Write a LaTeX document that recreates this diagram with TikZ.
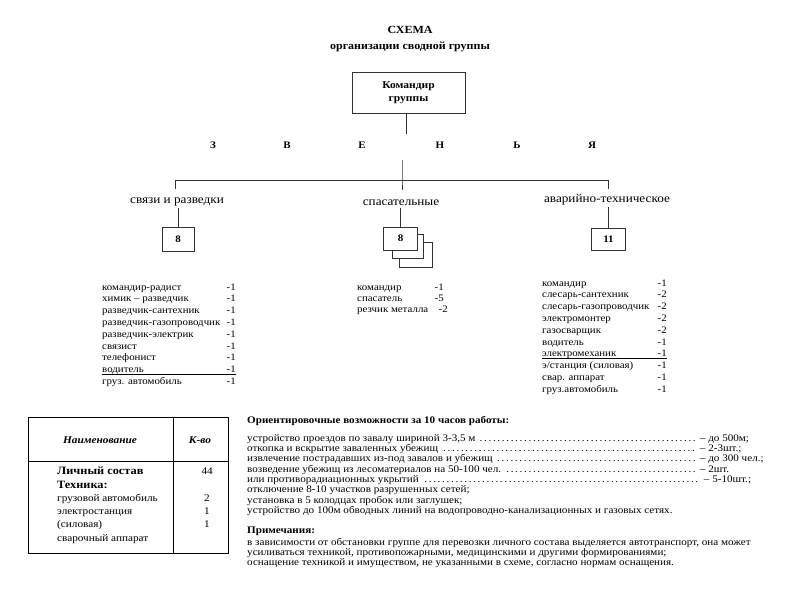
\documentclass[tikz,border=0pt]{standalone}
\usepackage{fontspec}
\setmainfont{Liberation Serif}[FakeStretch=1.1]
\begin{document}
\begin{tikzpicture}[x=1pt,y=-1pt,
  ln/.style={line width=0.6pt, draw=black!80},
  bx/.style={draw=black!80, line width=0.7pt, fill=white, inner sep=0pt},
  lt/.style={font=\fontsize{9.9}{11}\selectfont, inner sep=0pt, anchor=base west},
  rt/.style={font=\fontsize{9.9}{11}\selectfont, inner sep=0pt, anchor=base east},
  tt/.style={font=\fontsize{10.1}{11}\selectfont, inner sep=0pt, anchor=base west},
  hd/.style={font=\bfseries\fontsize{10}{12}\selectfont, inner sep=0pt},
  br/.style={font=\fontsize{12}{14}\selectfont, inner sep=1.5pt}
]
\useasboundingbox (0,0) rectangle (800,600);
% title
\node[font=\bfseries\fontsize{10.9}{12}\selectfont] (t1) at (410,30) {СХЕМА};
\node[font=\bfseries\fontsize{10.9}{12}\selectfont] (t2) at (410,47) {организации сводной группы};
% commander
\node[bx, minimum width=113pt, minimum height=41pt, align=center,
  font=\bfseries\fontsize{10.5}{13}\selectfont] (cmd) at (408.5,92.5) {Командир\\группы};
\coordinate (c1) at (406,134);
\coordinate (c2) at (402,160);
\coordinate (bc) at (402,180);
\coordinate (bl) at (175,180);
\coordinate (br) at (608,180);
\coordinate (tl) at (175,189);
\coordinate (tc) at (402,190);
\coordinate (tr) at (608,189);
\draw[ln] (cmd.south -| c1) -- (c1);
% letters
\foreach \l/\x [count=\i] in {З/213,В/287,Е/362,Н/440,Ь/517,Я/592}
  \node[hd] (z\i) at (\x,145) {\l};
% labels
\node[br] (L1) at (177,202) {связи и разведки};
\node[br] (L2) at (401,203) {спасательные};
\node[br] (L3) at (607,200) {аварийно-техническое};
\draw[ln] (c2) -- (bc) -- (tc);
\draw[ln] (tl) -- (bl) -- (br) -- (tr);
% boxes
\node[bx, minimum width=32pt, minimum height=24pt, font=\bfseries\fontsize{10}{12}\selectfont] (b1) at (178,239) {8};
\node[bx, minimum width=33pt, minimum height=25pt] (b2c) at (415.5,254.5) {};
\node[bx, minimum width=31pt, minimum height=24pt] (b2b) at (407.5,246) {};
\node[bx, minimum width=34pt, minimum height=23pt, font=\bfseries\fontsize{10}{12}\selectfont] (b2) at (400.5,238.5) {8};
\node[bx, minimum width=34pt, minimum height=22pt, font=\bfseries\fontsize{10}{12}\selectfont] (b3) at (608.5,239) {11};
\draw[ln] (b1.north |- L1.south) -- (b1.north);
\draw[ln] (b2.north |- L2.south) -- (b2.north);
\draw[ln] (b3.north |- L3.south) -- (b3.north);
% left list
\foreach \t/\v [count=\i] in {командир-радист/-1, химик – разведчик/-1, разведчик-сантехник/-1,
  разведчик-газопроводчик/-1, разведчик-электрик/-1, связист/-1, телефонист/-1, водитель/-1, груз. автомобиль/-1}{
  \node[lt] (la\i) at (102,{287+11.8*(\i-1)+3}) {\t};
  \node[rt] (lv\i) at (236,{287+11.8*(\i-1)+3}) {\v};
}
\draw[line width=0.9pt] (la8.base west) ++(0,2) coordinate (u1) -- (u1 -| lv8.east);
% center list
\node[lt] (ca1) at (357,290) {командир};
\node[lt] (ca2) at (357,301) {спасатель};
\node[lt] (ca3) at (357,312) {резчик металла};
\node[rt] (cv1) at (444,290) {-1};
\node[rt] (cv2) at (444,301) {-5};
\node[rt] (cv3) at (448,312) {-2};
% right list
\foreach \t/\v [count=\i] in {командир/-1, слесарь-сантехник/-2, слесарь-газопроводчик/-2,
  электромонтер/-2, газосварщик/-2, водитель/-1, электромеханик/-1,
  {э/станция (силовая)}/-1, свар. аппарат/-1, груз.автомобиль/-1}{
  \node[lt] (ra\i) at (542,{283+11.8*(\i-1)+3}) {\t};
  \node[rt] (rv\i) at (667,{283+11.8*(\i-1)+3}) {\v};
}
\draw[line width=0.9pt] (ra7.base west) ++(0,2) coordinate (u2) -- (u2 -| rv7.east);
% table
\draw[line width=1pt] (28,417) rectangle (228,553);
\draw[line width=1pt] (173,417) -- (173,553);
\draw[line width=1pt] (28,461) -- (228,461);
\node[font=\bfseries\itshape\fontsize{10.3}{11}\selectfont] (th1) at (100,440) {Наименование};
\node[font=\bfseries\itshape\fontsize{10.3}{11}\selectfont] (th2) at (200,440) {К-во};
\node[lt, font=\bfseries\fontsize{11.2}{12}\selectfont] (tr1) at (57,474) {Личный состав};
\node[lt, font=\bfseries\fontsize{11.2}{12}\selectfont] (tr2) at (57,488) {Техника:};
\node[lt, font=\fontsize{10.2}{11}\selectfont] (tr3) at (57,501) {грузовой автомобиль};
\node[lt, font=\fontsize{10.2}{11}\selectfont] (tr4) at (57,514) {электростанция};
\node[lt, font=\fontsize{10.2}{11}\selectfont] (tr5) at (57,527) {(силовая)};
\node[lt, font=\fontsize{10.2}{11}\selectfont] (tr6) at (57,541) {сварочный аппарат};
\node[rt, font=\fontsize{10.2}{11}\selectfont] (tv1) at (213,474) {44};
\node[lt, anchor=base, font=\fontsize{10.2}{11}\selectfont] (tv3) at (207,501) {2};
\node[lt, anchor=base, font=\fontsize{10.2}{11}\selectfont] (tv4) at (207,514) {1};
\node[lt, anchor=base, font=\fontsize{10.2}{11}\selectfont] (tv5) at (207,527) {1};
% text block
\node[lt, font=\bfseries\fontsize{10.1}{11}\selectfont] (h1) at (247,423) {Ориентировочные возможности за 10 часов работы:};
\node[tt] (p1) at (247,441) {\makebox[450pt][l]{устройство проездов по завалу шириной 3-3,5 м \dotfill} – до 500м;};
\node[tt] (p2) at (247,451.3) {\makebox[450pt][l]{откопка и вскрытие заваленных убежищ \dotfill} – 2-3шт.;};
\node[tt] (p3) at (247,461.6) {\makebox[450pt][l]{извлечение пострадавших из-под завалов и убежищ \dotfill} – до 300 чел.;};
\node[tt] (p4) at (247,472) {\makebox[450pt][l]{возведение убежищ из лесоматериалов на 50-100 чел. \dotfill} – 2шт.};
\node[tt] (p5) at (247,482.3) {\makebox[454pt][l]{или противорадиационных укрытий \dotfill} – 5-10шт.;};
\node[tt] (p6) at (247,492.6) {отключение 8-10 участков разрушенных сетей;};
\node[tt] (p7) at (247,503) {установка в 5 колодцах пробок или заглушек;};
\node[tt] (p8) at (247,513.3) {устройство до 100м обводных линий на водопроводно-канализационных и газовых сетях.};
\node[lt, font=\bfseries\fontsize{10.1}{11}\selectfont] (h2) at (247,533) {Примечания:};
\node[tt] (n1) at (247,545) {в зависимости от обстановки группе для перевозки личного состава выделяется автотранспорт, она может};
\node[tt] (n2) at (247,555) {усиливаться техникой, противопожарными, медицинскими и другими формированиями;};
\node[tt] (n3) at (247,565) {оснащение техникой и имуществом, не указанными в схеме, согласно нормам оснащения.};
\end{tikzpicture}
\end{document}
